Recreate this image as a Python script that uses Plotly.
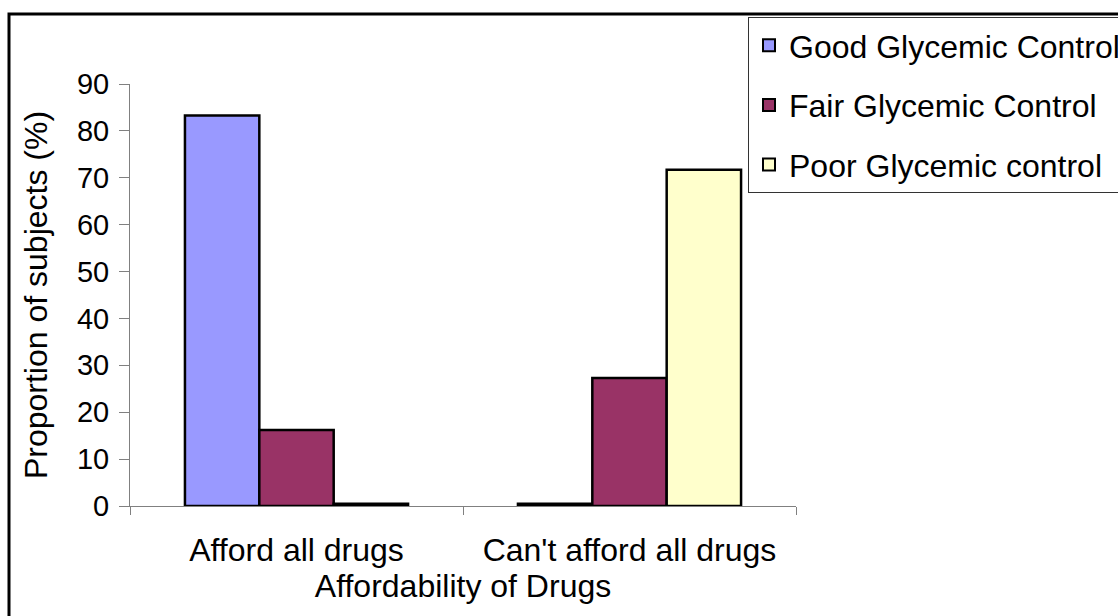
import plotly.graph_objects as go

categories = ["Afford all drugs", "Can't afford all drugs"]
series_names = ["Good Glycemic Control", "Fair Glycemic Control", "Poor Glycemic control"]
good = [83.3, 0.5]
fair = [16.2, 27.3]
poor = [0.5, 71.7]
colors = ["#9999FF", "#993366", "#FFFFCC"]
y_ticks = [0, 10, 20, 30, 40, 50, 60, 70, 80, 90]

W, H = 1118, 616
L, R, T, B = 130, 796, 84, 506  # plot area pixels


def px_x(p):
    return (p - L) / (R - L)


def px_y(p):
    return (B - p) / (B - T)


FONT = "Liberation Sans, Arial, sans-serif"

fig = go.Figure()
for name, vals, col in zip(series_names, [good, fair, poor], colors):
    fig.add_trace(go.Bar(
        x=categories, y=vals, name=name, legendgroup=name,
        marker=dict(color=col, line=dict(color="black", width=2.5)),
    ))

fig.update_layout(
    width=W, height=H,
    margin=dict(l=L, r=W - R, t=T, b=H - B, autoexpand=False),
    paper_bgcolor="white", plot_bgcolor="white",
    barmode="group", bargap=0.33, bargroupgap=0,
    font=dict(family=FONT, color="black"),
    showlegend=True,
    legend=dict(
        x=px_x(748), y=px_y(17), xanchor="left", yanchor="top",
        bgcolor="white", bordercolor="#333333", borderwidth=1,
        font=dict(size=32, family=FONT), tracegroupgap=15,
        itemsizing="constant",
    ),
    xaxis=dict(
        showline=True, linecolor="#808080", linewidth=1,
        ticks="outside", tickson="boundaries", ticklen=8, tickcolor="#808080",
        tickfont=dict(size=32), ticklabelstandoff=16,
        title=dict(text="Affordability of Drugs", font=dict(size=32), standoff=2),
        showgrid=False, zeroline=False,
    ),
    yaxis=dict(
        range=[0, 90], tickvals=y_ticks,
        showline=True, linecolor="#808080", linewidth=1,
        ticks="outside", ticklen=10, tickcolor="#808080",
        tickfont=dict(size=29), ticklabelstandoff=4,
        title=dict(text="Proportion of subjects (%)", font=dict(size=32), standoff=19),
        showgrid=False, zeroline=False,
    ),
    shapes=[dict(
        type="rect", xref="paper", yref="paper",
        x0=px_x(9), x1=px_x(1130), y0=px_y(640), y1=px_y(14),
        line=dict(color="black", width=3), fillcolor="rgba(0,0,0,0)", layer="below",
    )],
)

fig.write_html("out.html")
